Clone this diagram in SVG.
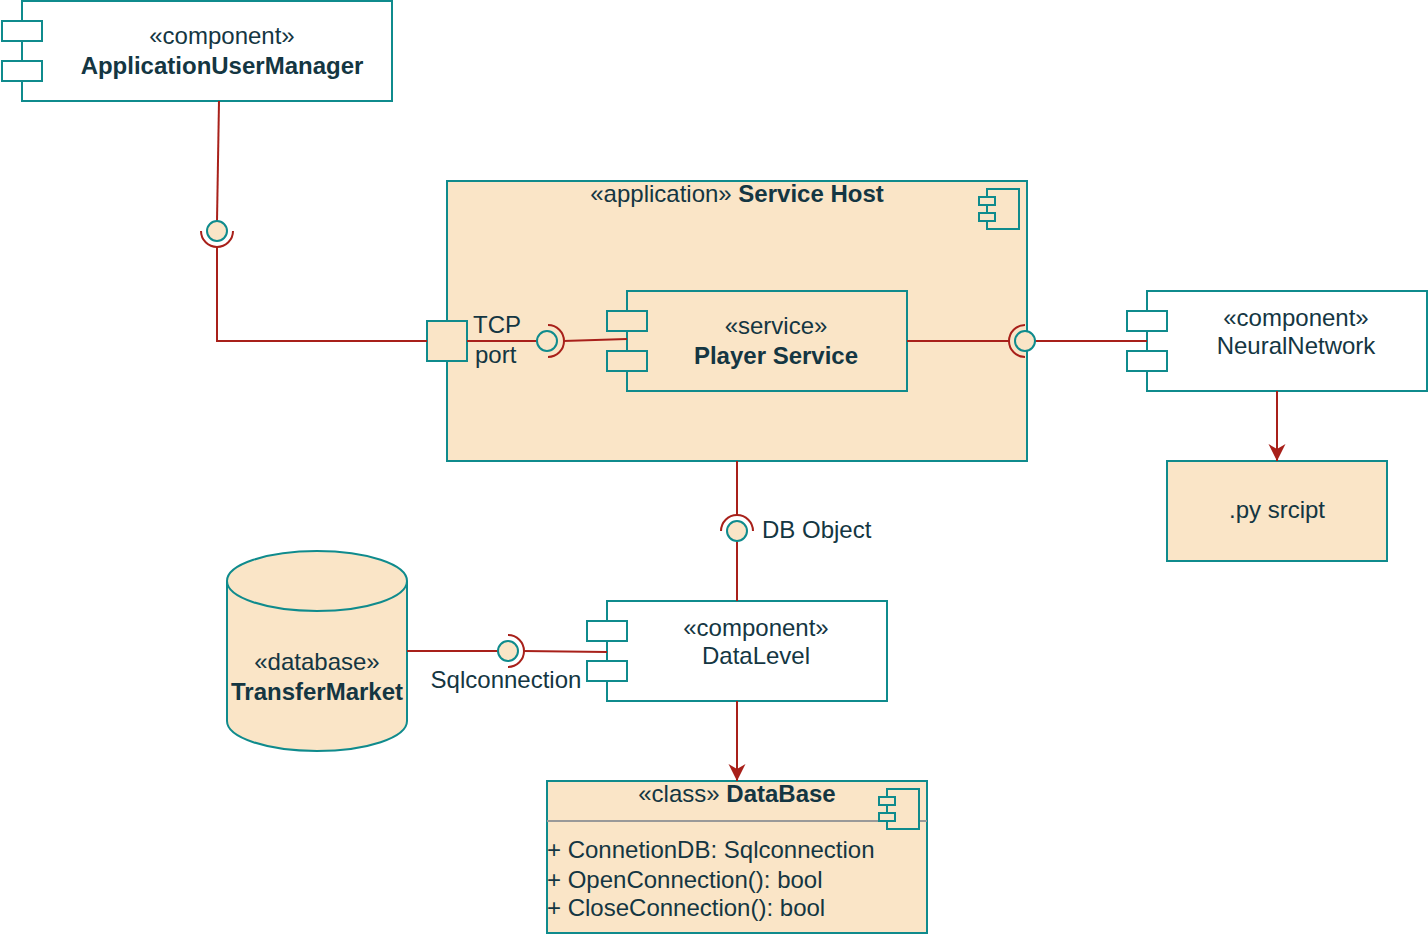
<svg xmlns="http://www.w3.org/2000/svg" width="1428" height="934" viewBox="0 0 1428 934">
<style>
.box{fill:#FAE5C7;stroke:#0F8B8D;stroke-width:2}
.wbox{fill:#FFFFFF;stroke:#0F8B8D;stroke-width:2}
.tab{fill:#FFFFFF;stroke:#0F8B8D;stroke-width:2}
.ftab{fill:#FAE5C7;stroke:#0F8B8D;stroke-width:2}
.ball{fill:#FAE5C7;stroke:#0F8B8D;stroke-width:2}
.line{fill:none;stroke:#A8201A;stroke-width:2}
text{font-family:"Liberation Sans",Arial,sans-serif;font-size:24px;fill:#143642}
.c{text-anchor:middle}
.b{font-weight:bold}
</style>
<defs>
<marker id="arr" markerUnits="userSpaceOnUse" markerWidth="22" markerHeight="22" viewBox="-19 -11 22 22" refX="0" refY="0" orient="auto">
<path d="M0,0 L-17,-8.5 L-12,0 L-17,8.5 Z" fill="#A8201A"/>
</marker>
</defs>

<g id="ApplicationUserManager">
<rect class="wbox" x="22" y="1" width="370" height="100"/>
<rect class="tab" x="2" y="21" width="40" height="20"/>
<rect class="tab" x="2" y="61" width="40" height="20"/>
<text class="c" x="222" y="44">«component»</text>
<text class="c b" x="222" y="74">ApplicationUserManager</text>
</g>

<g id="ServiceHost">
<rect class="box" x="447" y="181" width="580" height="280"/>
<rect class="ftab" x="987" y="189" width="32" height="40"/>
<rect class="ftab" x="979" y="197" width="16" height="8"/>
<rect class="ftab" x="979" y="213" width="16" height="8"/>
<text class="c" x="737" y="202">«application» <tspan class="b">Service Host</tspan></text>
</g>

<g id="TCPport">
<rect class="box" x="427" y="321" width="40" height="40"/>
<text x="473" y="333">TCP</text>
<text x="475" y="363">port</text>
</g>

<g id="PlayerService">
<rect class="box" x="627" y="291" width="280" height="100"/>
<rect class="ftab" x="607" y="311" width="40" height="20"/>
<rect class="ftab" x="607" y="351" width="40" height="20"/>
<text class="c" x="776" y="334">«service»</text>
<text class="c b" x="776" y="364">Player Service</text>
</g>

<g id="NeuralNetwork">
<rect class="wbox" x="1147" y="291" width="280" height="100"/>
<rect class="tab" x="1127" y="311" width="40" height="20"/>
<rect class="tab" x="1127" y="351" width="40" height="20"/>
<text class="c" x="1296" y="326">«component»</text>
<text class="c" x="1296" y="354">NeuralNetwork</text>
</g>

<g id="pyscript">
<rect class="box" x="1167" y="461" width="220" height="100"/>
<text class="c" x="1277" y="518">.py srcipt</text>
</g>

<g id="TransferMarket">
<path class="box" d="M227,581 A90,30 0 0 1 407,581 L407,721 A90,30 0 0 1 227,721 Z"/>
<path fill="none" stroke="#0F8B8D" stroke-width="2" d="M227,581 A90,30 0 0 0 407,581"/>
<text class="c" x="317" y="670">«database»</text>
<text class="c b" x="317" y="700">TransferMarket</text>
</g>

<g id="DataLevel">
<rect class="wbox" x="607" y="601" width="280" height="100"/>
<rect class="tab" x="587" y="621" width="40" height="20"/>
<rect class="tab" x="587" y="661" width="40" height="20"/>
<text class="c" x="756" y="636">«component»</text>
<text class="c" x="756" y="664">DataLevel</text>
</g>

<g id="DataBase">
<rect class="box" x="547" y="781" width="380" height="152"/>
<line x1="547" y1="821" x2="927" y2="821" stroke="#999999" stroke-width="2"/>
<rect class="ftab" x="887" y="789" width="32" height="40"/>
<rect class="ftab" x="879" y="797" width="16" height="8"/>
<rect class="ftab" x="879" y="813" width="16" height="8"/>
<text class="c" x="737" y="802">«class» <tspan class="b">DataBase</tspan></text>
<text x="547" y="858">+ ConnetionDB: Sqlconnection</text>
<text x="547" y="888">+ OpenConnection(): bool</text>
<text x="547" y="916">+ CloseConnection(): bool</text>
</g>

<g id="connectors">
<!-- ApplicationUserManager to TCP port -->
<path class="line" d="M219,101 L217,221"/>
<path class="line" d="M217,247 L217,341 L427,341"/>
<path class="line" d="M201,231 A16,16 0 0 0 233,231"/>
<!-- TCP port to Player Service -->
<path class="line" d="M467,341 L537,341"/>
<path class="line" d="M548,325 A16,16 0 0 1 548,357"/>
<path class="line" d="M563,341 L627,339"/>
<!-- Player Service to NeuralNetwork -->
<path class="line" d="M907,341 L1009,341"/>
<path class="line" d="M1025,325 A16,16 0 0 0 1025,357"/>
<path class="line" d="M1035,341 L1147,341"/>
<!-- NeuralNetwork to script -->
<path class="line" d="M1277,391 L1277,461" marker-end="url(#arr)"/>
<!-- Service Host to DataLevel -->
<path class="line" d="M737,461 L737,515"/>
<path class="line" d="M721,531 A16,16 0 0 1 753,531"/>
<path class="line" d="M737,541 L737,601"/>
<!-- TransferMarket to DataLevel -->
<path class="line" d="M407,651 L498,651"/>
<path class="line" d="M508,635 A16,16 0 0 1 508,667"/>
<path class="line" d="M523,651 L607,652"/>
<!-- DataLevel to DataBase -->
<path class="line" d="M737,701 L737,781" marker-end="url(#arr)"/>
</g>

<g id="interfaces">
<circle class="ball" cx="217" cy="231" r="10"/>
<circle class="ball" cx="547" cy="341" r="10"/>
<circle class="ball" cx="1025" cy="341" r="10"/>
<circle class="ball" cx="737" cy="531" r="10"/>
<circle class="ball" cx="508" cy="651" r="10"/>
</g>
<text x="762" y="538">DB Object</text>
<text class="c" x="506" y="688">Sqlconnection</text>
</svg>
